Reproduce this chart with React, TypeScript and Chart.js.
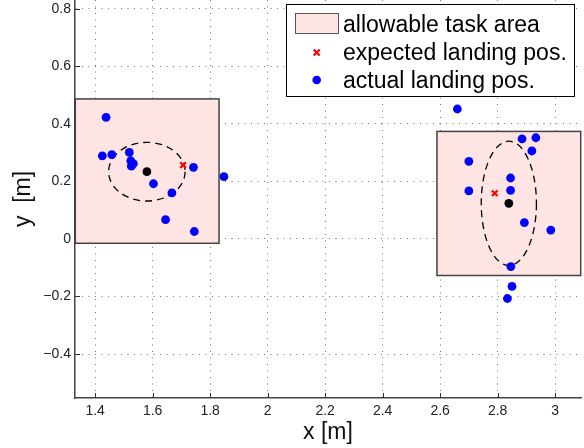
import React, { useEffect, useRef } from 'react';
import { Chart, registerables } from 'chart.js';

Chart.register(...registerables);

// axis ranges and tick labels
const xRange = [1.33, 3.09];
const yRange = [-0.553, 0.831];
const xTicks = [1.4, 1.6, 1.8, 2, 2.2, 2.4, 2.6, 2.8, 3];
const yTicks = [-0.4, -0.2, 0, 0.2, 0.4, 0.6, 0.8];

// legend labels
const legendLabels = ['allowable task area', 'expected landing pos.', 'actual landing pos.'];

// allowable task areas (rectangles)
const areaXMin = [1.331, 2.589];
const areaXMax = [1.831, 3.089];
const areaYMin = [-0.015, -0.127];
const areaYMax = [0.487, 0.374];

// expected landing positions
const expectedX = [1.706, 2.79];
const expectedY = [0.257, 0.159];

// actual landing positions
const actualX = [
  1.438, 1.425, 1.458, 1.519, 1.524, 1.533, 1.526, 1.603, 1.667, 1.742, 1.848, 1.645, 1.745,
  2.66, 2.885, 2.933, 2.919, 2.7, 2.845, 2.7, 2.845, 2.893, 2.985, 2.846, 2.85, 2.834,
];
const actualY = [
  0.423, 0.289, 0.293, 0.301, 0.272, 0.262, 0.253, 0.192, 0.16, 0.249, 0.217, 0.067, 0.026,
  0.452, 0.348, 0.352, 0.306, 0.27, 0.212, 0.167, 0.169, 0.057, 0.031, -0.096, -0.165, -0.207,
];

// mean landing positions and spread ellipses
const meanX = [1.58, 2.839];
const meanY = [0.234, 0.124];
const ellipseRx = [0.133, 0.096];
const ellipseRy = [0.102, 0.216];

const FONT = "'Liberation Sans', Arial, Helvetica, sans-serif";
const PINK = 'rgb(255,228,228)';

const fmt = (v: number) => {
  const s = String(Number(Math.abs(v).toFixed(1)));
  return v < -1e-9 ? '\u2212' + s : s;
};

const areaPlugin = {
  id: 'areas',
  beforeDatasetsDraw(chart: any) {
    const { ctx, chartArea, scales } = chart;
    const xs = scales.x;
    const ys = scales.y;
    ctx.save();
    // inward tick marks
    ctx.strokeStyle = '#333';
    ctx.lineWidth = 1;
    xTicks.forEach((v) => {
      const px = Math.round(xs.getPixelForValue(v)) + 0.5;
      ctx.beginPath();
      ctx.moveTo(px, chartArea.bottom);
      ctx.lineTo(px, chartArea.bottom - 5);
      ctx.stroke();
    });
    yTicks.forEach((v) => {
      const py = Math.round(ys.getPixelForValue(v)) + 0.5;
      ctx.beginPath();
      ctx.moveTo(chartArea.left, py);
      ctx.lineTo(chartArea.left + 5, py);
      ctx.stroke();
    });
    ctx.beginPath();
    ctx.rect(chartArea.left - 1, chartArea.top, chartArea.right - chartArea.left + 2, chartArea.bottom - chartArea.top);
    ctx.clip();
    // rectangles
    for (let i = 0; i < areaXMin.length; i++) {
      const x0 = xs.getPixelForValue(areaXMin[i]);
      const x1 = xs.getPixelForValue(areaXMax[i]);
      const y0 = ys.getPixelForValue(areaYMax[i]);
      const y1 = ys.getPixelForValue(areaYMin[i]);
      ctx.fillStyle = PINK;
      ctx.fillRect(x0, y0, x1 - x0, y1 - y0);
      ctx.strokeStyle = '#444';
      ctx.lineWidth = 1.5;
      ctx.strokeRect(x0, y0, x1 - x0, y1 - y0);
    }
    // ellipses
    ctx.setLineDash([7, 5]);
    ctx.strokeStyle = '#000';
    ctx.lineWidth = 1.3;
    for (let i = 0; i < meanX.length; i++) {
      const cx = xs.getPixelForValue(meanX[i]);
      const cy = ys.getPixelForValue(meanY[i]);
      const rx = Math.abs(xs.getPixelForValue(meanX[i] + ellipseRx[i]) - cx);
      const ry = Math.abs(ys.getPixelForValue(meanY[i] + ellipseRy[i]) - cy);
      ctx.beginPath();
      ctx.ellipse(cx, cy, rx, ry, 0, 0, Math.PI * 2);
      ctx.stroke();
    }
    ctx.restore();
  },
};

const legendPlugin = {
  id: 'customLegend',
  afterDraw(chart: any) {
    const { ctx } = chart;
    ctx.save();
    ctx.fillStyle = '#fff';
    ctx.fillRect(286.5, 4.5, 288, 92);
    ctx.strokeStyle = '#000';
    ctx.lineWidth = 1;
    ctx.strokeRect(286.5, 4.5, 288, 92);
    // swatch
    ctx.fillStyle = PINK;
    ctx.fillRect(295.5, 13.5, 43, 20);
    ctx.strokeStyle = '#555';
    ctx.strokeRect(295.5, 13.5, 43, 20);
    // red cross
    ctx.strokeStyle = '#ff0000';
    ctx.lineWidth = 2.2;
    const cx = 316.7, cy = 52.5, h = 3;
    ctx.beginPath();
    ctx.moveTo(cx - h, cy - h);
    ctx.lineTo(cx + h, cy + h);
    ctx.moveTo(cx + h, cy - h);
    ctx.lineTo(cx - h, cy + h);
    ctx.stroke();
    // blue dot
    ctx.fillStyle = '#0000ff';
    ctx.beginPath();
    ctx.arc(316.7, 80, 4.3, 0, Math.PI * 2);
    ctx.fill();
    // texts
    ctx.fillStyle = '#000';
    ctx.font = `23px ${FONT}`;
    ctx.textBaseline = 'alphabetic';
    ctx.textAlign = 'left';
    const baselines = [32, 60, 87.5];
    legendLabels.forEach((t, i) => ctx.fillText(t, 343, baselines[i]));
    ctx.restore();
  },
};

export default function App() {
  const ref = useRef<HTMLCanvasElement | null>(null);
  useEffect(() => {
    if (!ref.current) return;
    const chart = new Chart(ref.current, {
      type: 'scatter',
      data: {
        datasets: [
          {
            label: legendLabels[2],
            data: actualX.map((x, i) => ({ x, y: actualY[i] })),
            backgroundColor: '#0000ff',
            borderWidth: 0,
            pointRadius: 4.4,
            pointHoverRadius: 4.4,
          },
          {
            label: legendLabels[1],
            data: expectedX.map((x, i) => ({ x, y: expectedY[i] })),
            pointStyle: 'crossRot',
            borderColor: '#ff0000',
            backgroundColor: '#ff0000',
            borderWidth: 2.2,
            pointRadius: 4,
            pointHoverRadius: 4,
          },
          {
            label: 'mean',
            data: meanX.map((x, i) => ({ x, y: meanY[i] })),
            backgroundColor: '#000',
            borderWidth: 0,
            pointRadius: 4.4,
            pointHoverRadius: 4.4,
          },
        ],
      },
      options: {
        responsive: false,
        animation: false,
        events: [],
        layout: { autoPadding: false, padding: { left: 0, right: 3, top: 0, bottom: 0 } },
        plugins: { legend: { display: false }, tooltip: { enabled: false } },
        scales: {
          x: {
            type: 'linear',
            min: xRange[0],
            max: xRange[1],
            afterBuildTicks: (s: any) => {
              s.ticks = xTicks.map((value) => ({ value }));
            },
            afterFit: (s: any) => {
              s.height = 50;
              s.paddingLeft = 0;
              s.paddingRight = 0;
            },
            grid: { color: 'rgba(0,0,0,0.55)', lineWidth: 1, drawTicks: false },
            border: { display: true, color: '#444', width: 1.5, dash: [1, 5.5] },
            ticks: {
              padding: 5,
              color: '#222',
              font: { family: FONT, size: 14 },
              callback: (v: any) => fmt(Number(v)),
            },
            title: {
              display: true,
              text: 'x [m]',
              color: '#111',
              font: { family: FONT, size: 23 },
              padding: { top: 0, bottom: 1.2 },
            },
          },
          y: {
            type: 'linear',
            min: yRange[0],
            max: yRange[1],
            afterBuildTicks: (s: any) => {
              s.ticks = yTicks.map((value) => ({ value }));
            },
            afterFit: (s: any) => {
              s.width = 75;
              s.paddingTop = 0;
              s.paddingBottom = 0;
            },
            grid: { color: 'rgba(0,0,0,0.55)', lineWidth: 1, drawTicks: false },
            border: { display: true, color: '#444', width: 1.5, dash: [1, 5.5] },
            ticks: {
              padding: 4,
              color: '#222',
              font: { family: FONT, size: 14 },
              callback: (v: any) => fmt(Number(v)),
            },
            title: {
              display: true,
              text: 'y  [m]',
              color: '#111',
              font: { family: FONT, size: 23 },
              padding: { top: 9.5, bottom: 0 },
            },
          },
        },
      },
      plugins: [areaPlugin, legendPlugin],
    });
    return () => chart.destroy();
  }, []);
  return (
    <div style={{ position: 'absolute', left: 0, top: 0, width: 584, height: 448 }}>
      <canvas ref={ref} width={584} height={448} style={{ display: 'block' }} />
    </div>
  );
}
